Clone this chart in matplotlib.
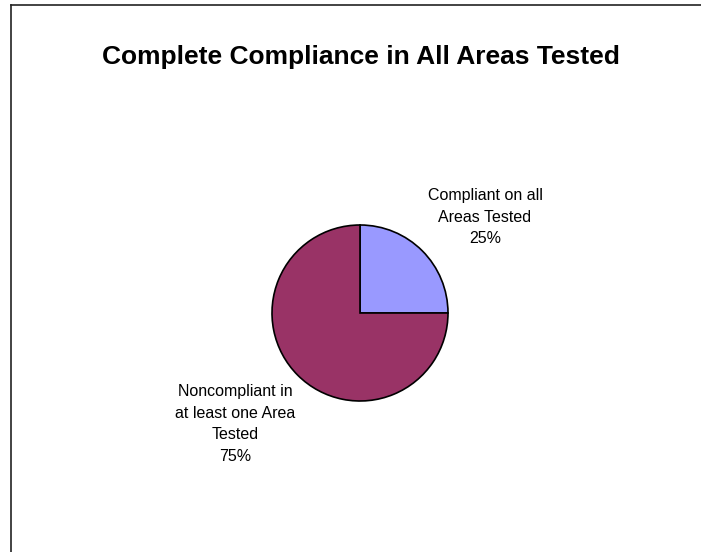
import matplotlib
matplotlib.use("Agg")
import matplotlib.pyplot as plt
from matplotlib.lines import Line2D

# pie data
categories = ["Compliant on all\nAreas Tested", "Noncompliant in\nat least one Area\nTested"]
values = [25, 75]
colors = ["#9999FF", "#993366"]

W, H = 701, 552
plt.rcParams["font.family"] = ["Liberation Sans", "DejaVu Sans"]

fig = plt.figure(figsize=(W / 100, H / 100), dpi=100)
fig.patch.set_facecolor("white")

# chart-area frame: top and left edges only show
fig.add_artist(Line2D([10.5 / W, 1.0], [1 - 4.5 / H, 1 - 4.5 / H],
                      transform=fig.transFigure, color="#222222", lw=1.2))
fig.add_artist(Line2D([10.5 / W, 10.5 / W], [0.0, 1 - 4.5 / H],
                      transform=fig.transFigure, color="#222222", lw=1.2))

fig.text(360.5 / W, 1 - 64 / H, "Complete Compliance in All Areas Tested",
         ha="center", va="baseline", fontsize=19, fontweight="bold")

# axes spanning the whole figure, one unit per pixel
ax = fig.add_axes([0, 0, 1, 1])
ax.pie(values, colors=colors, startangle=90, counterclock=False,
       center=(360, H - 313), radius=88,
       wedgeprops=dict(edgecolor="black", linewidth=1.2))
ax.set_xlim(0, W)
ax.set_ylim(0, H)
ax.set_aspect("equal")
ax.axis("off")

total = sum(values)
label_pos = [(485, H - 188), (235, H - 384)]
for name, v, (x, y) in zip(categories, values, label_pos):
    ax.text(x, y, f"{name}\n{v / total * 100:.0f}%", ha="center", va="top",
            multialignment="center", fontsize=11.5, linespacing=1.55)

fig.savefig("out.png", dpi=100)
